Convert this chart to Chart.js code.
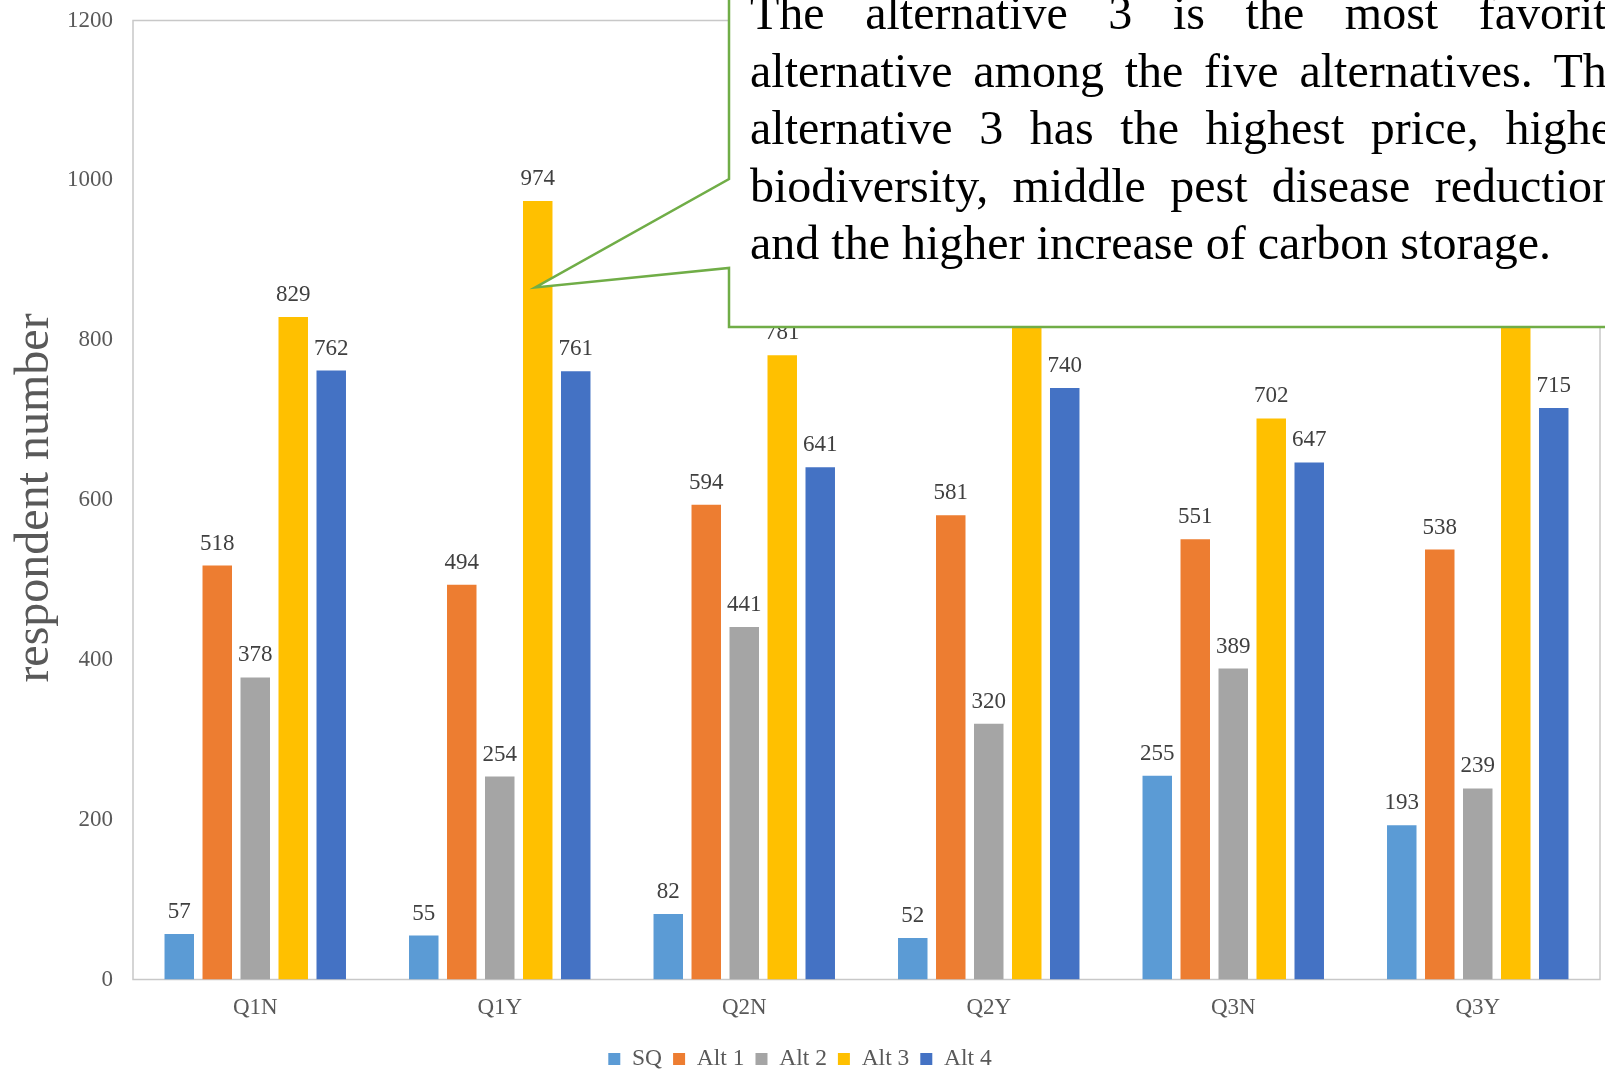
<!DOCTYPE html>
<html>
<head>
<meta charset="utf-8">
<script src="https://cdn.jsdelivr.net/npm/chart.js@4.4.1/dist/chart.umd.min.js"></script>
<style>
  html, body { margin: 0; padding: 0; background: #ffffff; overflow: hidden; }
  #wrap { width: 1605px; height: 1071px; position: relative; }
</style>
</head>
<body>
<div id="wrap"><canvas id="c" width="1605" height="1071"></canvas></div>
<script>
// ---- data ----
const categories = ["Q1N", "Q1Y", "Q2N", "Q2Y", "Q3N", "Q3Y"];
const seriesNames = ["SQ", "Alt 1", "Alt 2", "Alt 3", "Alt 4"];
const sqValues   = [57, 55, 82, 52, 255, 193];
const alt1Values = [518, 494, 594, 581, 551, 538];
const alt2Values = [378, 254, 441, 320, 389, 239];
const alt3Values = [829, 974, 781, 850, 702, 858];
const alt4Values = [762, 761, 641, 740, 647, 715];
const yTicks = [0, 200, 400, 600, 800, 1000, 1200];
const yAxisTitle = "respondent number";
const calloutLines = [
  "The alternative 3 is the most favorite",
  "alternative among the five alternatives. The",
  "alternative 3 has the highest price, higher",
  "biodiversity, middle pest disease reduction,",
  "and the higher increase of carbon storage."
];
const calloutValue = 866; // where the callout pointer touches the Q1Y Alt 3 bar

const colors = ["#5B9BD5", "#ED7D31", "#A5A5A5", "#FFC000", "#4472C4"];
const seriesValues = [sqValues, alt1Values, alt2Values, alt3Values, alt4Values];
const FONT = "'Liberation Serif', 'Times New Roman', serif";

const datasets = seriesNames.map((name, i) => ({
  label: name,
  data: seriesValues[i],
  backgroundColor: colors[i],
  borderWidth: 0,
  categoryPercentage: 0.777,
  barPercentage: 0.776
}));

const PLOT_LEFT = 133;

const frameAndLabels = {
  id: 'frameAndLabels',
  afterLayout(chart) {
    const lg = chart.legend;
    if (lg) {
      const pad = lg.options.labels.padding;
      const fs = lg.options.labels.font.size;
      const cur = lg.top + pad + fs / 2;
      const shift = 1059 - cur;
      lg.top += shift; lg.bottom += shift;
    }
  },
  beforeDatasetsDraw(chart) {
    const {ctx, chartArea: a} = chart;
    ctx.save();
    ctx.strokeStyle = '#c8c8c8';
    ctx.lineWidth = 1.5;
    ctx.strokeRect(a.left, a.top, a.right - a.left, a.bottom - a.top);
    ctx.restore();
  },
  afterDatasetsDraw(chart) {
    const {ctx} = chart;
    ctx.save();
    ctx.font = "23px " + FONT;
    ctx.fillStyle = '#404040';
    ctx.textAlign = 'center';
    ctx.textBaseline = 'alphabetic';
    chart.data.datasets.forEach((ds, di) => {
      const meta = chart.getDatasetMeta(di);
      meta.data.forEach((bar, i) => {
        ctx.fillText(String(ds.data[i]), bar.x, bar.y - 16);
      });
    });
    // y axis title
    ctx.save();
    ctx.translate(48, 498);
    ctx.rotate(-Math.PI / 2);
    ctx.font = "48px " + FONT;
    ctx.fillStyle = '#595959';
    ctx.textAlign = 'center';
    ctx.textBaseline = 'alphabetic';
    ctx.fillText(yAxisTitle, 0, 0);
    ctx.restore();
    ctx.restore();
  },
  afterDraw(chart) {
    const {ctx} = chart;
    const y = chart.scales.y;
    const bar = chart.getDatasetMeta(3).data[1];
    const tipX = bar.x - 2.5;
    const tipY = y.getPixelForValue(calloutValue);
    const L = 729, B = 327;
    ctx.save();
    ctx.beginPath();
    ctx.moveTo(L, -10);
    ctx.lineTo(L, 179);
    ctx.lineTo(tipX, tipY);
    ctx.lineTo(L, 268);
    ctx.lineTo(L, B);
    ctx.lineTo(1620, B);
    ctx.lineTo(1620, -10);
    ctx.closePath();
    ctx.fillStyle = '#ffffff';
    ctx.fill();
    ctx.strokeStyle = '#70AD47';
    ctx.lineWidth = 2.5;
    ctx.lineJoin = 'miter';
    ctx.stroke();
    // justified text
    ctx.font = "48px " + FONT;
    ctx.fillStyle = '#000000';
    ctx.textAlign = 'left';
    ctx.textBaseline = 'alphabetic';
    const x0 = 750, xR = 1628, base0 = 29, lh = 57.5;
    calloutLines.forEach((line, li) => {
      const by = base0 + li * lh;
      if (li === calloutLines.length - 1) {
        ctx.fillText(line, x0, by);
        return;
      }
      const words = line.split(' ');
      const widths = words.map(w => ctx.measureText(w).width);
      const total = widths.reduce((s, w) => s + w, 0);
      const gap = (xR - x0 - total) / (words.length - 1);
      let x = x0;
      words.forEach((w, wi) => {
        ctx.fillText(w, x, by);
        x += widths[wi] + gap;
      });
    });
    ctx.restore();
  }
};

new Chart(document.getElementById('c'), {
  type: 'bar',
  data: { labels: categories, datasets },
  options: {
    responsive: false,
    animation: false,
    devicePixelRatio: 1,
    layout: { padding: { top: 20.5, right: 5, bottom: 0, left: 0 } },
    plugins: {
      legend: {
        position: 'bottom',
        labels: {
          boxWidth: 12, boxHeight: 12, padding: 11,
          color: '#595959',
          font: { family: FONT, size: 23.5 }
        }
      },
      tooltip: { enabled: false }
    },
    scales: {
      x: {
        grid: { display: false, drawTicks: false },
        border: { display: false },
        ticks: { color: '#595959', font: { family: FONT, size: 23 }, padding: 15 },
        afterFit(s) { s.height = 47; }
      },
      y: {
        min: 0, max: 1200,
        grid: { display: false, drawTicks: false },
        border: { display: false },
        afterBuildTicks(s) { s.ticks = yTicks.map(v => ({ value: v })); },
        ticks: {
          color: '#595959', font: { family: FONT, size: 23, lineHeight: 0.02 }, padding: 20,
          callback: (v) => String(v)
        },
        afterFit(s) { s.width = PLOT_LEFT; }
      }
    }
  },
  plugins: [frameAndLabels]
});
</script>
</body>
</html>
